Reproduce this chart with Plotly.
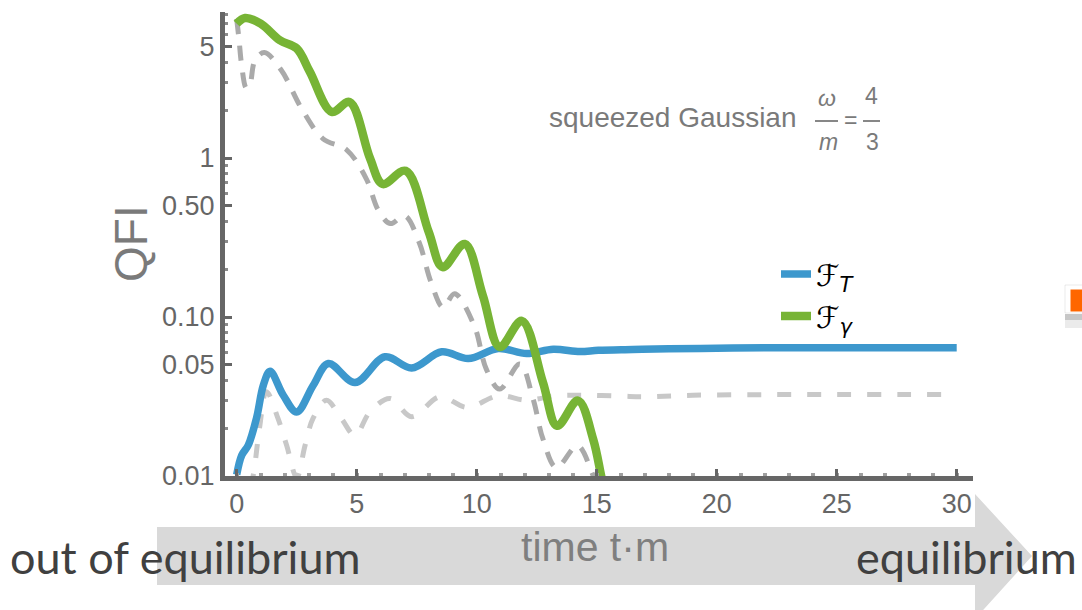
import plotly.graph_objects as go

# ---- data: QFI vs. time t·m ----
# F_T (blue, solid)
t_T = [0, 0.21, 0.48, 0.83, 1.11, 1.39, 1.94, 2.5, 3.19, 3.82, 4.93, 6.18, 7.29,
       8.54, 9.65, 10.9, 12.08, 13.19, 14.3, 15.07, 16.5, 18.0, 20.0, 22.0, 25.0, 28.0, 30.0]
F_T = [0.0102, 0.0135, 0.0156, 0.0233, 0.0372, 0.0456, 0.0322, 0.0253, 0.0372, 0.051,
       0.0387, 0.0562, 0.0478, 0.0604, 0.0548, 0.0634, 0.0589, 0.0627, 0.0606, 0.0618,
       0.0625, 0.0632, 0.0636, 0.064, 0.064, 0.0641, 0.0641]

# F_gamma (green, solid)
t_G = [0, 0.35, 1.0, 1.8, 2.5, 3.05, 3.96, 4.7, 5.55, 6.08, 7.04, 8.0, 8.58, 9.5,
       10.26, 10.96, 11.88, 12.76, 13.35, 14.22, 14.85, 15.2, 15.5]
F_G = [7.0, 7.6, 7.0, 5.5, 4.89, 3.48, 1.95, 2.25, 1.0, 0.686, 0.83, 0.343, 0.206, 0.288,
       0.136, 0.0647, 0.0945, 0.0388, 0.0207, 0.0298, 0.0171, 0.0098, 0.006]

# companion of F_gamma (dark grey, dashed)
t_Gd = [0, 0.1, 0.2, 0.4, 0.55, 0.76, 1.15, 1.86, 2.7, 3.6, 4.57, 5.4, 5.9, 6.4, 7.0,
        7.6, 8.1, 8.6, 9.08, 9.9, 10.4, 10.96, 11.8, 12.35, 12.76, 13.32, 14.2, 14.85, 15.3]
F_Gd = [7.5, 5.5, 3.9, 2.75, 2.9, 4.1, 4.6, 3.56, 2.05, 1.32, 1.13, 0.74, 0.47, 0.387,
        0.434, 0.295, 0.165, 0.115, 0.14, 0.088, 0.047, 0.0352, 0.0506, 0.0305, 0.0171,
        0.0113, 0.0155, 0.0101, 0.007]

# companion of F_T (light grey, dashed)
t_Td = [0.55, 0.69, 0.95, 1.24, 1.72, 2.08, 2.5, 2.85, 3.18, 3.74, 4.36, 4.93, 5.55,
        6.39, 7.29, 8.47, 9.6, 10.9, 12.08, 13.3, 14.5, 16.0, 17.0, 19.0, 22.0, 25.0, 28.0, 30.0]
F_Td = [0.0085, 0.0101, 0.02, 0.0339, 0.023, 0.0156, 0.0098, 0.0156, 0.023, 0.0299,
        0.023, 0.018, 0.0253, 0.0307, 0.0236, 0.0315, 0.027, 0.032, 0.030, 0.032, 0.0322,
        0.0318, 0.0315, 0.0322, 0.0325, 0.0325, 0.0325, 0.0325]

x_ticks = [0, 5, 10, 15, 20, 25, 30]
y_ticks = [0.01, 0.05, 0.1, 0.5, 1, 5]
y_tick_text = ["0.01", "0.05", "0.10", "0.50", "1", "5"]
y_minor = [0.02, 0.03, 0.04, 0.06, 0.07, 0.08, 0.09, 0.2, 0.3, 0.4, 0.6, 0.7, 0.8, 0.9,
           2, 3, 4, 6, 7, 8]

# ---- figure geometry (pixels) ----
W, H = 1082, 610
L, R, T, B = 225, 973, 12, 476


def px(x):
    return (x - L) / (R - L)


def py(y):
    return (B - y) / (B - T)


BLUE = "#3d98cd"
GREEN = "#77b435"
AXIS = "#666666"
TXT = "#7a7a7a"

fig = go.Figure()
fig.add_trace(go.Scatter(x=t_Td, y=F_Td, mode="lines", showlegend=False,
                         line=dict(color="#c8c8c8", width=5, dash="14px,16px", shape="spline")))
fig.add_trace(go.Scatter(x=t_Gd, y=F_Gd, mode="lines", showlegend=False,
                         line=dict(color="#aaaaaa", width=5, dash="15px,12px", shape="spline")))
fig.add_trace(go.Scatter(x=t_T, y=F_T, mode="lines", name="ℱ<sub><i>T</i></sub>",
                         line=dict(color=BLUE, width=7.5, shape="spline")))
fig.add_trace(go.Scatter(x=t_G, y=F_G, mode="lines", name="ℱ<sub><i>γ</i></sub>",
                         line=dict(color=GREEN, width=8.5, shape="spline")))

tickfont = dict(family="Liberation Sans, Arial, sans-serif", size=27, color=AXIS)

fig.update_xaxes(
    range=[(L - 236.7) / 24, (R - 236.7) / 24],
    tickvals=x_ticks, ticks="inside", ticklen=7, tickwidth=3, tickcolor=AXIS,
    showline=True, linewidth=5, linecolor=AXIS, showgrid=False, zeroline=False,
    tickfont=tickfont,
    minor=dict(tickvals=list(range(31)), ticks="inside", ticklen=3, tickwidth=4,
               tickcolor="#a0a0a0", showgrid=False),
)
fig.update_yaxes(
    type="log", range=[-2, -2 + (B - T) / 159],
    tickvals=y_ticks, ticktext=y_tick_text, ticks="inside", ticklen=7, tickwidth=3,
    tickcolor=AXIS, showline=True, linewidth=5, linecolor=AXIS, showgrid=False,
    zeroline=False, tickfont=tickfont,
    minor=dict(tickvals=y_minor, ticks="inside", ticklen=3, tickwidth=3,
               tickcolor="#8a8a8a", showgrid=False),
)

shapes = []
# big grey arrow under the time axis
shapes.append(dict(type="path", xref="paper", yref="paper", layer="below",
                   fillcolor="#d9d9d9", line=dict(width=0),
                   path=(f"M{px(157)},{py(527)} L{px(975)},{py(527)} L{px(975)},{py(494)} "
                         f"L{px(1032)},{py(556)} L{px(975)},{py(619)} L{px(975)},{py(585)} "
                         f"L{px(157)},{py(585)} Z")))
# fraction bars of omega/m = 4/3
shapes.append(dict(type="line", xref="paper", yref="paper", x0=px(815), x1=px(838),
                   y0=py(121), y1=py(121), line=dict(color=TXT, width=1.8)))
shapes.append(dict(type="line", xref="paper", yref="paper", x0=px(863), x1=px(880),
                   y0=py(121), y1=py(121), line=dict(color=TXT, width=1.8)))
# partially visible orange element at the right edge
shapes.append(dict(type="rect", xref="paper", yref="paper", x0=px(1065), x1=px(1084),
                   y0=py(313), y1=py(285), fillcolor="#ffffff",
                   line=dict(color="rgba(0,0,0,0.08)", width=1)))
shapes.append(dict(type="rect", xref="paper", yref="paper", x0=px(1070.5), x1=px(1084),
                   y0=py(311.5), y1=py(289.5), fillcolor="#ff6600", line=dict(width=0)))
shapes.append(dict(type="rect", xref="paper", yref="paper", x0=px(1065), x1=px(1084),
                   y0=py(320), y1=py(314), fillcolor="rgba(0,0,0,0.22)", line=dict(width=0)))
shapes.append(dict(type="rect", xref="paper", yref="paper", x0=px(1065), x1=px(1084),
                   y0=py(328), y1=py(320), fillcolor="rgba(0,0,0,0.08)", line=dict(width=0)))

annots = []


def note(x, y, text, size, color=TXT, family="Liberation Sans, Arial, sans-serif",
         xanchor="center", textangle=0):
    annots.append(dict(x=px(x), y=py(y), xref="paper", yref="paper", text=text,
                       showarrow=False, xanchor=xanchor, yanchor="middle",
                       textangle=textangle,
                       font=dict(family=family, size=size, color=color)))


note(547, 117, "squeezed Gaussian", 28, xanchor="left")
note(826.5, 98, "<i>ω</i>", 23)
note(828, 142, "<i>m</i>", 23)
note(850.5, 120, "=", 23)
note(871.5, 96, "4", 23)
note(872.5, 142, "3", 23)
note(130.5, 243.5, "QFI", 46, textangle=-90)
note(595, 547, "time t·m", 41, color="#7f7f7f")
note(8, 557, "out of equilibrium", 45, color="#404040",
     family="Lato, Open Sans, sans-serif", xanchor="left")
note(1079, 557, "equilibrium", 45, color="#404040",
     family="Lato, Open Sans, sans-serif", xanchor="right")

fig.update_layout(
    width=W, height=H,
    margin=dict(l=L, r=W - R, t=T, b=H - B),
    paper_bgcolor="white", plot_bgcolor="rgba(0,0,0,0)",
    shapes=shapes, annotations=annots,
    showlegend=True,
    legend=dict(x=px(776), y=py(248), xanchor="left", yanchor="top",
                bgcolor="rgba(0,0,0,0)", borderwidth=0,
                font=dict(family="DejaVu Sans, sans-serif", size=30, color="black")),
)

fig.write_html("out.html")
